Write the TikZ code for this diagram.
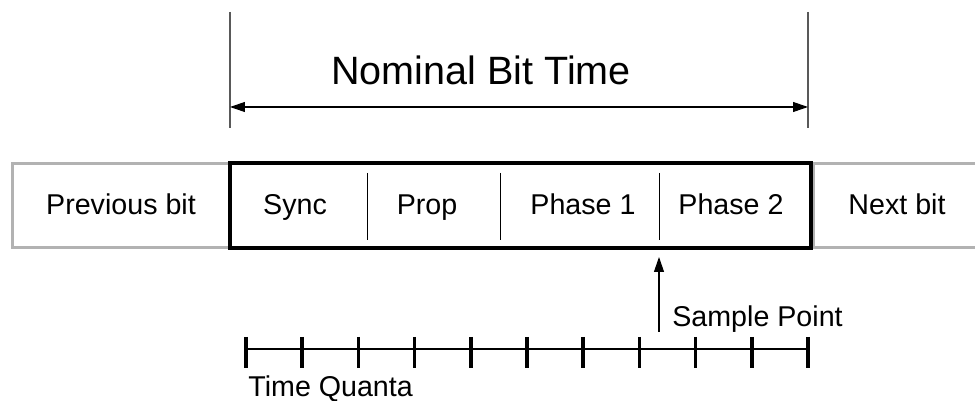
\documentclass[tikz,border=0pt]{standalone}
\usepackage{fontspec}
\setmainfont{Liberation Sans}
\usetikzlibrary{arrows.meta,positioning}

\begin{document}
\begin{tikzpicture}[x=0.02cm,y=-0.02cm]
\tikzset{
  otherbit/.style={draw=black!30,line width=1.7pt,minimum height=1.68cm,inner sep=0pt},
  thisbit/.style={draw=black,line width=1.8pt,minimum height=1.7cm,minimum width=11.62cm,inner sep=0pt},
  fieldlabel/.style={font=\fontsize{16.3}{19}\selectfont,inner sep=0pt,anchor=base},
  divider/.style={draw=black,line width=0.5pt},
  dimline/.style={draw=black!65,line width=0.6pt},
  dimarrow/.style={draw=black,line width=0.6pt,{Triangle[length=3mm,width=2mm]}-{Triangle[length=3mm,width=2mm]}},
  tickmark/.style={draw=black,line width=2pt},
  tqline/.style={draw=black,line width=0.6pt}
}
\useasboundingbox (0,0) rectangle (975,401);
% bits
\node[otherbit,minimum width=4.36cm] (prevbit) at (121,205.5) {};
\node[otherbit,minimum width=3.8cm] (nextbit) at (908,205.5) {};
\node[thisbit] (bit) at (520.5,205.5) {};
% segment labels
\node[fieldlabel] (l_prev) at (121,215) {Previous bit};
\node[fieldlabel] (l_sync) at (295,215) {Sync};
\node[fieldlabel] (l_prop) at (427,215) {Prop};
\node[fieldlabel] (l_ph1) at (583,215) {Phase 1};
\node[fieldlabel] (l_ph2) at (731,215) {Phase 2};
\node[fieldlabel] (l_next) at (897,215) {Next bit};
% dividers
\foreach \x/\n in {367/a,500/b,659/c} {
  \coordinate (d_\n_top) at (\x,173);
  \coordinate (d_\n_bot) at (\x,240);
  \draw[divider] (d_\n_top) -- (d_\n_bot);
}
% nominal bit time
\coordinate (nb_l_top) at (230,12);
\coordinate (nb_l_bot) at (230,128);
\coordinate (nb_r_top) at (808,12);
\coordinate (nb_r_bot) at (808,128);
\coordinate (nb_l) at (230,107);
\coordinate (nb_r) at (808,107);
\draw[dimline] (nb_l_top) -- (nb_l_bot);
\draw[dimline] (nb_r_top) -- (nb_r_bot);
\draw[dimarrow] (nb_l) -- (nb_r);
\node[font=\fontsize{22.5}{27}\selectfont,inner sep=0pt,anchor=base] (nominal) at (481,85) {Nominal Bit Time};
% sample point
\coordinate (sp_tail) at (659,332);
\coordinate (sp_tip) at (659,257);
\draw[draw=black,line width=0.6pt,-{Triangle[length=3mm,width=2mm]}] (sp_tail) -- (sp_tip);
\node[fieldlabel,anchor=base west] (sample) at (672,327) {Sample Point};
% time quanta
\coordinate (tq_start) at (246,349);
\coordinate (tq_end) at (808,349);
\draw[tqline] (tq_start) -- (tq_end);
\foreach \i in {0,...,10} {
  \draw[tickmark] ({246+56.2*\i},337) -- ({246+56.2*\i},368);
}
\node[fieldlabel,anchor=base west] (quanta) at (248,397) {Time Quanta};
\end{tikzpicture}
\end{document}
